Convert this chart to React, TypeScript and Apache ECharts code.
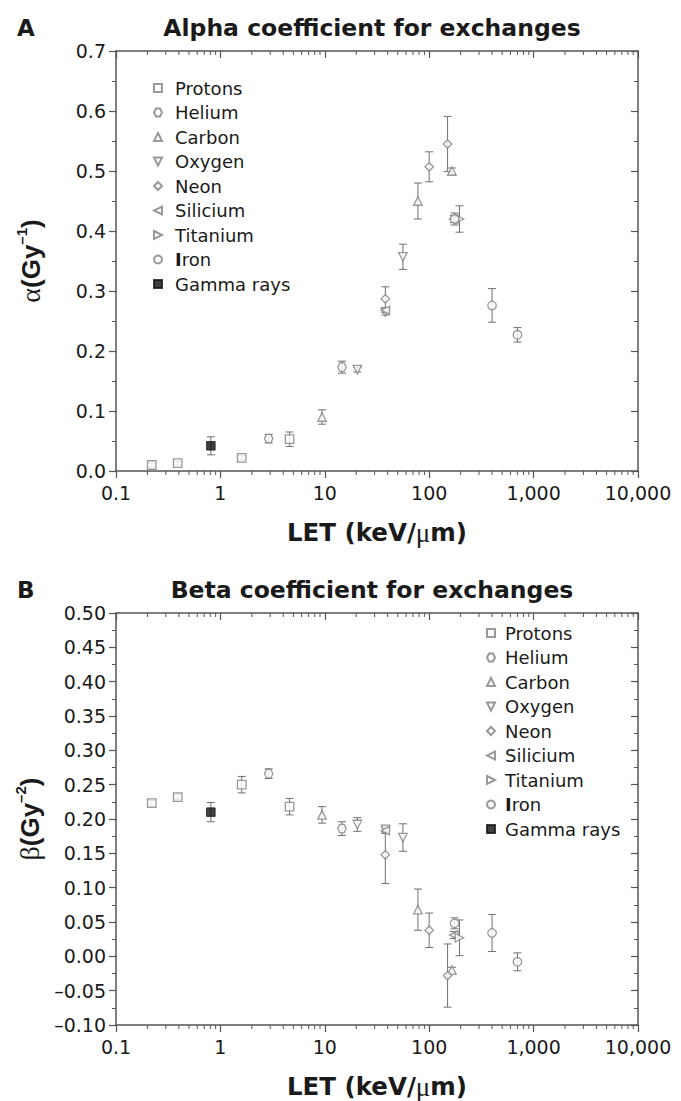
import React, { useEffect, useRef } from "react";
import * as echarts from "echarts";

// ---------- data ----------
const speciesNames = ["Protons", "Helium", "Carbon", "Oxygen", "Neon", "Silicium", "Titanium", "Iron", "Gamma rays"];

const protonsLET = [0.22, 0.39, 1.6, 4.6];
const protonsAlpha = [0.010, 0.013, 0.022, 0.053];
const protonsAlphaErr = [0.003, 0.003, 0.004, 0.012];
const protonsBeta = [0.223, 0.232, 0.250, 0.218];
const protonsBetaErr = [0.004, 0.004, 0.012, 0.012];

const heliumLET = [2.9, 14.6];
const heliumAlpha = [0.054, 0.173];
const heliumAlphaErr = [0.007, 0.010];
const heliumBeta = [0.266, 0.186];
const heliumBetaErr = [0.007, 0.010];

const carbonLET = [9.4, 78, 165];
const carbonAlpha = [0.090, 0.450, 0.500];
const carbonAlphaErr = [0.012, 0.030, 0.005];
const carbonBeta = [0.206, 0.068, -0.020];
const carbonBetaErr = [0.012, 0.030, 0.004];

const oxygenLET = [20.5, 38, 56];
const oxygenAlpha = [0.169, 0.265, 0.357];
const oxygenAlphaErr = [0.004, 0.005, 0.021];
const oxygenBeta = [0.192, 0.185, 0.173];
const oxygenBetaErr = [0.010, 0.004, 0.020];

const neonLET = [38, 100, 150];
const neonAlpha = [0.287, 0.507, 0.545];
const neonAlphaErr = [0.020, 0.025, 0.046];
const neonBeta = [0.148, 0.038, -0.028];
const neonBetaErr = [0.042, 0.025, 0.046];

const siliciumLET = [38, 172];
const siliciumAlpha = [0.268, 0.420];
const siliciumAlphaErr = [0.004, 0.006];
const siliciumBeta = [0.183, 0.031];
const siliciumBetaErr = [0.004, 0.005];

const titaniumLET = [195];
const titaniumAlpha = [0.420];
const titaniumAlphaErr = [0.022];
const titaniumBeta = [0.027];
const titaniumBetaErr = [0.026];

const ironLET = [175, 400, 700];
const ironAlpha = [0.420, 0.276, 0.227];
const ironAlphaErr = [0.010, 0.028, 0.012];
const ironBeta = [0.048, 0.034, -0.008];
const ironBetaErr = [0.008, 0.027, 0.013];

const gammaLET = [0.81];
const gammaAlpha = [0.042];
const gammaAlphaErr = [0.015];
const gammaBeta = [0.210];
const gammaBetaErr = [0.014];

const xTickLabels = ["0.1", "1", "10", "100", "1,000", "10,000"];

// ---------- styling ----------
const FONT = "'DejaVu Sans', sans-serif";
const FONT_ARIAL = "'Liberation Sans', Arial, sans-serif";
const SERIF = "'Liberation Serif', 'DejaVu Serif', serif";
const AXIS_COLOR = "#555";
const MARK_COLOR = "#808080";
const TEXT_COLOR = "#1a1a1a";

const SYM_RECT = "path://M0,0 L8,0 L8,8 L0,8 Z";
const SYM_HEX = "path://M2,0 L6,0 L8,4 L6,8 L2,8 L0,4 Z";
const SYM_UP = "path://M4,0 L8,8 L0,8 Z";
const SYM_DOWN = "path://M0,0 L8,0 L4,8 Z";
const SYM_LEFT = "path://M8,0 L8,8 L0,4 Z";
const SYM_RIGHT = "path://M0,0 L8,4 L0,8 Z";
const SYM_DIAMOND = "path://M4,0 L8,4 L4,8 L0,4 Z";

type Sp = {
  name: string; let: number[]; a: number[]; ae: number[]; b: number[]; be: number[];
  symbol: string; filled?: boolean;
};

const species: Sp[] = [
  { name: speciesNames[0], let: protonsLET, a: protonsAlpha, ae: protonsAlphaErr, b: protonsBeta, be: protonsBetaErr, symbol: SYM_RECT },
  { name: speciesNames[1], let: heliumLET, a: heliumAlpha, ae: heliumAlphaErr, b: heliumBeta, be: heliumBetaErr, symbol: SYM_HEX },
  { name: speciesNames[2], let: carbonLET, a: carbonAlpha, ae: carbonAlphaErr, b: carbonBeta, be: carbonBetaErr, symbol: SYM_UP },
  { name: speciesNames[3], let: oxygenLET, a: oxygenAlpha, ae: oxygenAlphaErr, b: oxygenBeta, be: oxygenBetaErr, symbol: SYM_DOWN },
  { name: speciesNames[4], let: neonLET, a: neonAlpha, ae: neonAlphaErr, b: neonBeta, be: neonBetaErr, symbol: SYM_DIAMOND },
  { name: speciesNames[5], let: siliciumLET, a: siliciumAlpha, ae: siliciumAlphaErr, b: siliciumBeta, be: siliciumBetaErr, symbol: SYM_LEFT },
  { name: speciesNames[6], let: titaniumLET, a: titaniumAlpha, ae: titaniumAlphaErr, b: titaniumBeta, be: titaniumBetaErr, symbol: SYM_RIGHT },
  { name: speciesNames[7], let: ironLET, a: ironAlpha, ae: ironAlphaErr, b: ironBeta, be: ironBetaErr, symbol: "circle" },
  { name: speciesNames[8], let: gammaLET, a: gammaAlpha, ae: gammaAlphaErr, b: gammaBeta, be: gammaBetaErr, symbol: SYM_RECT, filled: true },
];

const minorTickValues: number[] = [];
[0.1, 1, 10, 100, 1000].forEach((d) => {
  for (let k = 2; k <= 9; k++) minorTickValues.push(+(d * k).toPrecision(3));
});

const PANELS = [
  { top: 51, height: 420, yMin: 0, yMax: 0.7, yInt: 0.1, dec: 1 },
  { top: 613, height: 420, yMin: -0.1, yMax: 0.5, yInt: 0.05, dec: 2 },
];

function fmtX(v: number) {
  const e = Math.round(Math.log10(v));
  return xTickLabels[e + 1] ?? String(v);
}

function fmtY(v: number, dec: number) {
  const s = Math.abs(v).toFixed(dec);
  return v < -1e-9 ? "\u2013" + s : s;
}

export default function App() {
  const ref = useRef<HTMLDivElement>(null);

  useEffect(() => {
    if (!ref.current) return;
    const chart = echarts.init(ref.current, undefined, { renderer: "svg" });

    const grids = PANELS.map((p) => ({ left: 116, width: 522, top: p.top, height: p.height }));

    const xAxes: any[] = [];
    const yAxes: any[] = [];
    PANELS.forEach((p, gi) => {
      xAxes.push({
        type: "log", logBase: 10, min: 0.1, max: 10000, gridIndex: gi, position: "bottom",
        axisLine: { show: true, onZero: false, lineStyle: { color: AXIS_COLOR, width: 1.5 } },
        axisTick: { show: true, inside: false, length: 7, lineStyle: { color: AXIS_COLOR, width: 1.2 } },
        axisLabel: { show: true, formatter: (v: number) => fmtX(v), color: TEXT_COLOR, fontFamily: FONT, fontSize: 19, margin: 12 },
        splitLine: { show: false },
        name: "{b|LET (keV/}{m|μ}{b|m)}",
        nameLocation: "middle",
        nameGap: 48,
        nameTextStyle: {
          rich: {
            b: { fontFamily: FONT, fontWeight: "bold", fontSize: 24.5, color: TEXT_COLOR },
            m: { fontFamily: SERIF, fontSize: 27, color: TEXT_COLOR },
          },
        },
      });
      xAxes.push({
        type: "log", logBase: 10, min: 0.1, max: 10000, gridIndex: gi, position: "top",
        axisLine: { show: true, onZero: false, lineStyle: { color: AXIS_COLOR, width: 1.5 } },
        axisTick: { show: true, inside: true, length: 7, lineStyle: { color: AXIS_COLOR, width: 1.2 } },
        axisLabel: { show: false },
        splitLine: { show: false },
      });
      const yName = gi === 0 ? "{g|α}{b|(Gy}{s|\u20131}{b|)}" : "{g|β}{b|(Gy}{s|\u20132}{b|)}";
      yAxes.push({
        type: "value", min: p.yMin, max: p.yMax, interval: p.yInt, gridIndex: gi, position: "left",
        axisLine: { show: true, onZero: false, lineStyle: { color: AXIS_COLOR, width: 1.5 } },
        axisTick: { show: true, inside: false, length: 7, lineStyle: { color: AXIS_COLOR, width: 1.2 } },
        minorTick: { show: true, splitNumber: 2, length: 4, lineStyle: { color: AXIS_COLOR, width: 1 } },
        axisLabel: { formatter: (v: number) => fmtY(v, p.dec), color: TEXT_COLOR, fontFamily: FONT, fontSize: 19, margin: 10 },
        splitLine: { show: false },
        name: yName,
        nameLocation: "middle",
        nameRotate: 90,
        nameGap: 72,
        nameTextStyle: {
          rich: {
            g: { fontFamily: SERIF, fontSize: 28, lineHeight: 30, verticalAlign: "bottom", color: TEXT_COLOR },
            b: { fontFamily: FONT_ARIAL, fontWeight: "bold", fontSize: 26, lineHeight: 30, verticalAlign: "bottom", color: TEXT_COLOR },
            s: { fontFamily: FONT_ARIAL, fontWeight: "bold", fontSize: 15, lineHeight: 15, verticalAlign: "top", color: TEXT_COLOR },
          },
        },
      });
      yAxes.push({
        type: "value", min: p.yMin, max: p.yMax, interval: p.yInt, gridIndex: gi, position: "right",
        axisLine: { show: true, onZero: false, lineStyle: { color: AXIS_COLOR, width: 1.5 } },
        axisTick: { show: true, inside: true, length: 7, lineStyle: { color: AXIS_COLOR, width: 1.2 } },
        minorTick: { show: true, splitNumber: 2, length: 4, lineStyle: { color: AXIS_COLOR, width: 1 } },
        axisLabel: { show: false },
        splitLine: { show: false },
      });
    });

    const series: any[] = [];
    PANELS.forEach((p, gi) => {
      const xi = gi * 2;
      const yi = gi * 2;
      // minor log ticks on bottom (outward) and top (inward)
      series.push({
        type: "custom", name: "minor" + gi, xAxisIndex: xi, yAxisIndex: yi, silent: true, z: 1,
        data: minorTickValues.map((v) => [v, p.yMin]),
        encode: { x: 0, y: 1 },
        renderItem: (params: any, api: any) => {
          const v = api.value(0);
          const b = api.coord([v, p.yMin]);
          const t = api.coord([v, p.yMax]);
          const st = { stroke: AXIS_COLOR, lineWidth: 1 };
          return {
            type: "group",
            children: [
              { type: "line", shape: { x1: b[0], y1: b[1], x2: b[0], y2: b[1] + 4 }, style: st },
              { type: "line", shape: { x1: t[0], y1: t[1], x2: t[0], y2: t[1] + 4 }, style: st },
            ],
          };
        },
      });
      species.forEach((s) => {
        const vals = gi === 0 ? s.a : s.b;
        const errs = gi === 0 ? s.ae : s.be;
        series.push({
          type: "custom", name: s.name + "-err" + gi, xAxisIndex: xi, yAxisIndex: yi, silent: true, z: 2,
          data: s.let.map((x, i) => [x, vals[i] - errs[i], vals[i] + errs[i]]),
          encode: { x: 0, y: [1, 2] },
          renderItem: (params: any, api: any) => {
            const x = api.value(0);
            const p1 = api.coord([x, api.value(1)]);
            const p2 = api.coord([x, api.value(2)]);
            const w = 4;
            const st = { stroke: "#707070", lineWidth: 1 };
            return {
              type: "group",
              children: [
                { type: "line", shape: { x1: p1[0], y1: p1[1], x2: p2[0], y2: p2[1] }, style: st },
                { type: "line", shape: { x1: p1[0] - w, y1: p1[1], x2: p1[0] + w, y2: p1[1] }, style: st },
                { type: "line", shape: { x1: p2[0] - w, y1: p2[1], x2: p2[0] + w, y2: p2[1] }, style: st },
              ],
            };
          },
        });
        series.push({
          type: "scatter", name: s.name, xAxisIndex: xi, yAxisIndex: yi, z: 3,
          symbol: s.symbol, symbolSize: 8.5, symbolKeepAspect: true,
          itemStyle: s.filled
            ? { color: "#111", borderColor: "#111", borderWidth: 1 }
            : { color: "#fff", borderColor: MARK_COLOR, borderWidth: 1.3 },
          data: s.let.map((x, i) => [x, vals[i]]),
        });
      });
    });

    const legendBase = {
      orient: "vertical",
      data: speciesNames,
      itemHeight: 8,
      itemGap: 6.5,
      selectedMode: false,
      symbolKeepAspect: true,
      formatter: (name: string) => (name === "Iron" ? "{i|I}ron" : name),
      textStyle: {
        fontFamily: FONT, fontSize: 18, lineHeight: 18, color: TEXT_COLOR,
        rich: { i: { fontFamily: FONT, fontWeight: "bold", fontSize: 18, lineHeight: 18, color: TEXT_COLOR } },
      },
    };

    chart.setOption({
      animation: false,
      backgroundColor: "#fff",
      grid: grids,
      xAxis: xAxes,
      yAxis: yAxes,
      legend: [
        { ...legendBase, left: 148, top: 74, itemWidth: 24 },
        { ...legendBase, left: 481, top: 619, itemWidth: 18 },
      ],
      graphic: [
        { type: "text", left: 17, top: 16, style: { text: "A", fontFamily: FONT, fontWeight: "bold", fontSize: 23, fill: TEXT_COLOR } },
        { type: "text", x: 372, y: 28, style: { text: "Alpha coefficient for exchanges", fontFamily: FONT, fontWeight: "bold", fontSize: 23.5, fill: TEXT_COLOR, textAlign: "center", textVerticalAlign: "middle" } },
        { type: "text", left: 17, top: 578, style: { text: "B", fontFamily: FONT, fontWeight: "bold", fontSize: 23, fill: TEXT_COLOR } },
        { type: "text", x: 372, y: 590, style: { text: "Beta coefficient for exchanges", fontFamily: FONT, fontWeight: "bold", fontSize: 23.5, fill: TEXT_COLOR, textAlign: "center", textVerticalAlign: "middle" } },
      ],
      series,
    });

    return () => chart.dispose();
  }, []);

  return (
    <div
      ref={ref}
      style={{ position: "absolute", left: 0, top: 0, width: 681, height: 1101, background: "#fff" }}
    />
  );
}
